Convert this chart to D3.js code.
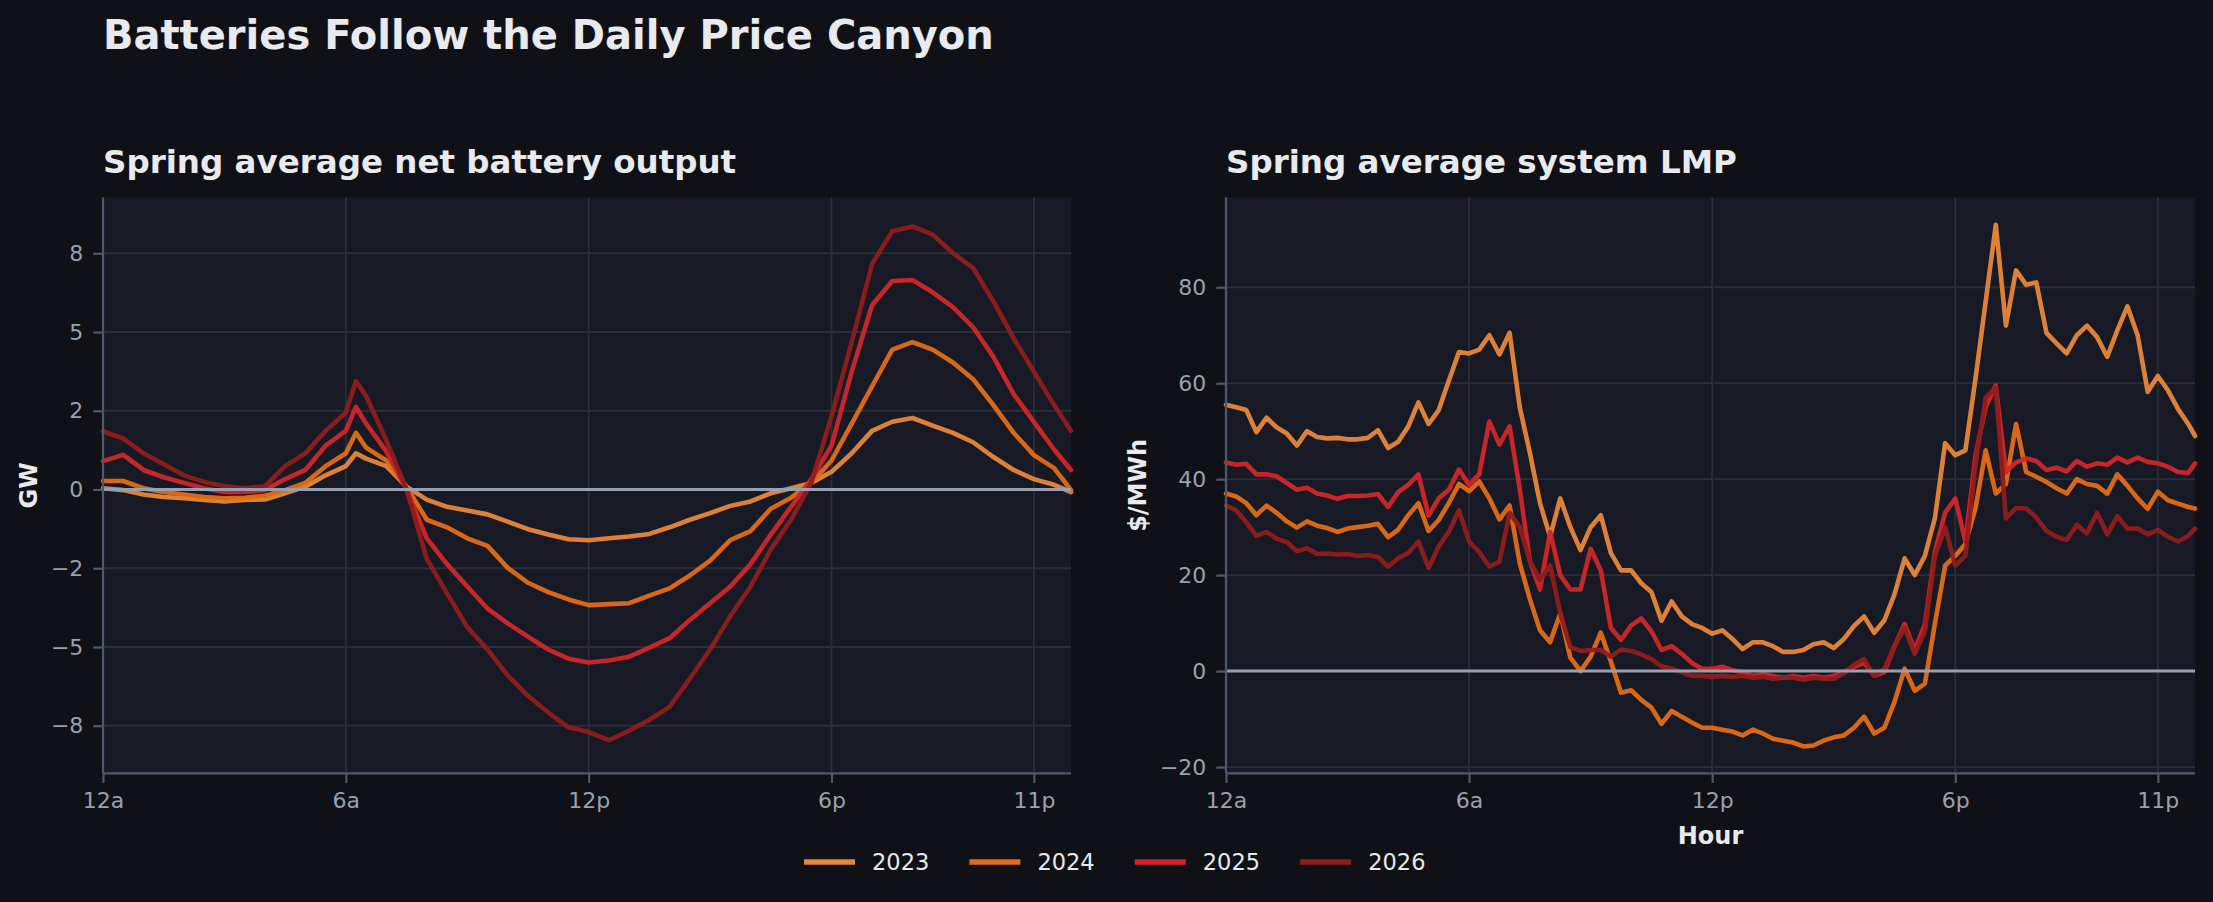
<!DOCTYPE html>
<html>
<head>
<meta charset="utf-8">
<script src="https://cdn.jsdelivr.net/npm/d3@7"></script>
<style>
  html, body { margin: 0; padding: 0; background: #0f1117; }
  svg { display: block; font-family: 'DejaVu Sans', sans-serif; }
</style>
</head>
<body>
<div id="chart"></div>
<script>
// series years and colours
const years = ['2023', '2024', '2025', '2026'];
const colors = ['#e8873a', '#e36b16', '#d0262a', '#8f1c1c'];

// hour ticks shared by both panels
const hourTicks = [0, 6, 12, 18, 23];
const hourLabels = ['12a', '6a', '12p', '6p', '11p'];

// left panel: net battery output (GW), half-hourly
const batHours = [0, 0.5, 1, 1.5, 2, 2.5, 3, 3.5, 4, 4.5, 5, 5.5, 6, 6.25, 6.5, 7, 7.5, 8, 8.5, 9,
  9.5, 10, 10.5, 11, 11.5, 12, 12.5, 13, 13.5, 14, 14.5, 15, 15.5, 16, 16.5, 17, 17.5, 18, 18.5, 19,
  19.5, 20, 20.5, 21, 21.5, 22, 22.5, 23, 23.5, 23.917];
const bat2023 = [0.04, -0.02, -0.16, -0.24, -0.28, -0.33, -0.38, -0.33, -0.32, -0.12,
  0.09, 0.45, 0.74, 1.15, 0.98, 0.74, 0.09, -0.32, -0.55, -0.67,
  -0.79, -1.02, -1.26, -1.43, -1.58, -1.61, -1.55, -1.49, -1.41, -1.2,
  -0.96, -0.75, -0.52, -0.38, -0.12, 0.04, 0.21, 0.56, 1.15, 1.86,
  2.15, 2.27, 2.03, 1.8, 1.5, 1.03, 0.62, 0.33, 0.15, -0.08];
const bat2024 = [0.27, 0.27, 0.04, -0.08, -0.16, -0.24, -0.28, -0.26, -0.2, -0.02,
  0.21, 0.74, 1.15, 1.8, 1.33, 0.92, 0.09, -0.96, -1.2, -1.55,
  -1.79, -2.49, -2.96, -3.26, -3.49, -3.67, -3.64, -3.61, -3.37, -3.14,
  -2.73, -2.26, -1.61, -1.32, -0.61, -0.26, 0.21, 0.92, 2.09, 3.27,
  4.44, 4.68, 4.44, 4.03, 3.5, 2.68, 1.8, 1.09, 0.68, -0.02];
const bat2025 = [0.9, 1.1, 0.62, 0.39, 0.21, 0.04, -0.08, -0.08, -0.02, 0.33,
  0.62, 1.39, 1.86, 2.62, 2.09, 1.21, 0, -1.55, -2.37, -3.08,
  -3.78, -4.25, -4.67, -5.08, -5.37, -5.49, -5.43, -5.31, -5.02, -4.72,
  -4.14, -3.61, -3.08, -2.37, -1.43, -0.55, 0.33, 1.39, 3.74, 5.85,
  6.62, 6.65, 6.26, 5.79, 5.15, 4.21, 3.03, 2.15, 1.27, 0.62];
const bat2026 = [1.85, 1.62, 1.15, 0.8, 0.45, 0.24, 0.1, 0.04, 0.1, 0.74,
  1.15, 1.86, 2.44, 3.44, 2.97, 1.56, 0, -2.2, -3.3, -4.37,
  -5.08, -5.9, -6.55, -7.08, -7.55, -7.7, -7.96, -7.66, -7.31, -6.9,
  -6.0, -5.08, -4.02, -3.08, -1.9, -0.96, 0.21, 2.33, 4.68, 7.15,
  8.2, 8.35, 8.09, 7.5, 7.03, 5.97, 4.8, 3.74, 2.68, 1.86];
const batTicks = [-7.5, -5, -2.5, 0, 2.5, 5, 7.5];
const batTickLabels = ['\u22128', '\u22125', '\u22122', '0', '2', '5', '8'];

// right panel: system LMP ($/MWh), quarter-hourly
const lmpHours = d3.range(0, 24, 0.25).concat([23.917]);
const lmp2023 = [
  55.5, 55.0, 54.4, 49.8, 52.8, 50.8, 49.5, 47.0,
  50.0, 48.8, 48.5, 48.6, 48.3, 48.3, 48.6, 50.2,
  46.5, 47.8, 51.0, 56.0, 51.5, 54.4, 60.5, 66.5,
  66.2, 67.0, 70.0, 66.0, 70.5, 55.0, 45.5, 35.0,
  28.0, 36.0, 30.0, 25.2, 30.0, 32.5, 24.6, 21.0,
  21.0, 18.3, 16.5, 10.5, 14.5, 11.4, 9.8, 9.0,
  7.8, 8.5, 6.7, 4.6, 6.0, 6.0, 5.2, 4.0,
  4.0, 4.4, 5.6, 6.0, 4.8, 6.7, 9.4, 11.4,
  8.0, 10.6, 16.0, 23.5, 20.0, 24.0, 32.0, 47.5,
  45.0, 46.0, 61.0, 77.0, 93.0, 72.0, 83.5, 80.5,
  81.0, 70.5, 68.3, 66.2, 70.0, 72.0, 69.6, 65.5,
  71.0, 76.0, 70.0, 58.2, 61.5, 58.5, 54.6, 51.5,
  49.0];
const lmp2024 = [
  37.0, 36.4, 35.0, 32.5, 34.5, 33.0, 31.2, 29.9,
  31.2, 30.3, 29.8, 29.0, 29.7, 30.0, 30.3, 30.7,
  27.9, 29.5, 32.5, 35.0, 29.2, 31.5, 35.0, 39.0,
  37.5, 39.5, 36.0, 31.6, 34.5, 22.5, 15.0, 8.5,
  6.0, 12.0, 2.8, 0.0, 3.0, 8.0, 2.0, -4.5,
  -4.0, -6.0, -7.6, -11.0, -8.3, -9.5, -10.7, -11.8,
  -11.8, -12.2, -12.6, -13.4, -12.2, -13.0, -14.1, -14.5,
  -14.9, -15.7, -15.5, -14.5, -13.8, -13.4, -11.8, -9.5,
  -13.0, -11.8, -6.4, 0.5, -4.1, -2.6, 10.0, 22.0,
  24.0, 26.5, 34.0, 46.0, 37.0, 39.0, 51.5, 41.5,
  40.5, 39.4, 38.1, 37.0, 40.0, 39.0, 38.6, 37.0,
  41.0, 38.6, 36.0, 33.8, 37.4, 35.6, 34.9, 34.2,
  33.9];
const lmp2025 = [
  43.5, 43.0, 43.2, 41.0, 41.0, 40.6, 39.2, 37.8,
  38.2, 37.0, 36.6, 35.9, 36.5, 36.5, 36.6, 36.9,
  34.2, 37.3, 38.8, 41.0, 32.4, 36.0, 37.8, 42.0,
  38.8, 41.0, 52.0, 47.2, 51.0, 38.0, 23.0, 17.0,
  29.0, 20.0, 17.0, 17.0, 25.5, 21.0, 9.0, 6.5,
  9.5, 11.0, 8.3, 4.4, 5.2, 3.6, 1.7, 0.5,
  0.5, 0.9, 0.2, -0.2, -1.0, -0.6, -1.0, -1.4,
  -1.0, -1.4, -1.0, -1.4, -1.0, -0.2, 0.9, 1.7,
  -1.0, -0.2, 5.2, 9.8, 4.4, 9.8, 25.0, 33.0,
  36.0, 27.0, 45.0, 55.0, 59.5, 41.5, 43.5, 44.3,
  43.8, 41.9, 42.4, 41.6, 43.8, 42.6, 43.3, 43.0,
  44.5, 43.5, 44.5, 43.6, 43.3, 42.6, 41.5, 41.3,
  43.3];
const lmp2026 = [
  34.5, 33.5, 31.0, 28.2, 29.0, 27.6, 26.9, 25.0,
  25.6, 24.4, 24.5, 24.3, 24.4, 24.0, 24.2, 23.8,
  21.8, 23.5, 24.6, 27.0, 21.5, 26.0, 29.0, 33.5,
  27.0, 24.8, 21.8, 22.8, 33.0, 30.0, 23.0, 19.0,
  22.0, 12.0, 5.0, 4.2, 4.4, 4.4, 3.0, 4.5,
  4.2, 3.5, 2.5, 1.0, 0.5, -0.2, -1.0, -1.0,
  -1.2, -1.0, -1.2, -1.0, -1.4, -1.2, -1.6, -1.4,
  -1.4, -1.8, -1.4, -1.6, -1.6, -0.5, 1.3, 2.5,
  -1.0, 0.5, 5.2, 9.0, 3.6, 8.3, 24.0, 30.0,
  22.0, 24.0, 43.0, 57.0, 59.0, 31.8, 34.0, 33.9,
  32.0, 29.2, 28.0, 27.3, 30.5, 28.7, 33.0, 28.5,
  32.3, 29.7, 29.7, 28.5, 29.4, 28.0, 27.0, 28.2,
  29.7];
const lmpTicks = [-20, 0, 20, 40, 60, 80];
const lmpTickLabels = ['\u221220', '0', '20', '40', '60', '80'];

const width = 2213;
const height = 902;
const plotTop = 197.5;
const plotBottom = 773.3;
const tickLen = 9.7;

const svg = d3.select('#chart')
  .append('svg')
  .attr('width', width)
  .attr('height', height);

svg.append('rect')
  .attr('width', width)
  .attr('height', height)
  .attr('fill', '#0f1117');

svg.append('text')
  .attr('x', 103)
  .attr('y', 49)
  .attr('fill', '#e8eaee')
  .style('font-size', '40px')
  .style('font-weight', 'bold')
  .text('Batteries Follow the Daily Price Canyon');

function drawPanel(opts) {
  const x = d3.scaleLinear()
    .domain([0, 23.917])
    .range([opts.left, opts.right]);
  const y = d3.scaleLinear()
    .domain(opts.yDomain)
    .range([plotBottom, plotTop]);

  const g = svg.append('g');

  g.append('rect')
    .attr('x', opts.left)
    .attr('y', plotTop)
    .attr('width', opts.right - opts.left)
    .attr('height', plotBottom - plotTop)
    .attr('fill', '#171a24');

  // grid
  g.append('g')
    .selectAll('line')
    .data(opts.yTicks)
    .join('line')
    .attr('x1', opts.left)
    .attr('x2', opts.right)
    .attr('y1', (d) => y(d))
    .attr('y2', (d) => y(d))
    .attr('stroke', '#2a2e3b')
    .attr('stroke-width', 1.8);
  g.append('g')
    .selectAll('line')
    .data(hourTicks)
    .join('line')
    .attr('x1', (d) => x(d))
    .attr('x2', (d) => x(d))
    .attr('y1', plotTop)
    .attr('y2', plotBottom)
    .attr('stroke', '#2a2e3b')
    .attr('stroke-width', 1.8);

  const line = d3.line()
    .x((d) => x(d[0]))
    .y((d) => y(d[1]));

  g.append('g')
    .selectAll('path')
    .data(opts.series)
    .join('path')
    .attr('d', (s) => line(opts.hours.map((h, i) => [h, s[i]])))
    .attr('fill', 'none')
    .attr('stroke', (s, i) => colors[i])
    .attr('stroke-width', 4.6)
    .attr('stroke-linejoin', 'round')
    .attr('stroke-linecap', 'round')
    .attr('opacity', 0.95);

  // zero line
  g.append('line')
    .attr('x1', opts.left)
    .attr('x2', opts.right)
    .attr('y1', y(0))
    .attr('y2', y(0))
    .attr('stroke', '#95a1b3')
    .attr('stroke-width', 3);

  const yAxis = d3.axisLeft(y)
    .tickValues(opts.yTicks)
    .tickFormat((d, i) => opts.yLabels[i])
    .tickSize(tickLen)
    .tickPadding(10);
  const xAxis = d3.axisBottom(x)
    .tickValues(hourTicks)
    .tickFormat((d, i) => hourLabels[i])
    .tickSize(tickLen)
    .tickPadding(9);

  [g.append('g').attr('transform', `translate(${opts.left},0)`).call(yAxis),
    g.append('g').attr('transform', `translate(0,${plotBottom})`).call(xAxis)]
    .forEach((ax) => {
      ax.select('.domain').remove();
      ax.selectAll('.tick line').attr('stroke', '#4f596c').attr('stroke-width', 2.2);
      ax.selectAll('.tick text')
        .attr('fill', '#9aa1ad')
        .style('font-size', '22px')
        .style('font-family', 'DejaVu Sans, sans-serif');
    });

  // spines
  g.append('line')
    .attr('x1', opts.left).attr('x2', opts.left)
    .attr('y1', plotTop).attr('y2', plotBottom)
    .attr('stroke', '#4f596c').attr('stroke-width', 2.2);
  g.append('line')
    .attr('x1', opts.left).attr('x2', opts.right)
    .attr('y1', plotBottom).attr('y2', plotBottom)
    .attr('stroke', '#4f596c').attr('stroke-width', 2.2);

  g.append('text')
    .attr('x', opts.left)
    .attr('y', 172.5)
    .attr('fill', '#e8eaee')
    .style('font-size', '32.5px')
    .style('font-weight', 'bold')
    .text(opts.title);

  g.append('text')
    .attr('transform', `translate(${opts.yLabelX},${(plotTop + plotBottom) / 2}) rotate(-90)`)
    .attr('text-anchor', 'middle')
    .attr('fill', '#e8eaee')
    .style('font-size', '24px')
    .style('font-weight', 'bold')
    .text(opts.yLabel);

  if (opts.xLabel) {
    g.append('text')
      .attr('x', (opts.left + opts.right) / 2)
      .attr('y', 844)
      .attr('text-anchor', 'middle')
      .attr('fill', '#e8eaee')
      .style('font-size', '24px')
      .style('font-weight', 'bold')
      .text(opts.xLabel);
  }
}

drawPanel({
  left: 103,
  right: 1071,
  yDomain: [-9.01, 9.27],
  yTicks: batTicks,
  yLabels: batTickLabels,
  hours: batHours,
  series: [bat2023, bat2024, bat2025, bat2026],
  title: 'Spring average net battery output',
  yLabel: 'GW',
  yLabelX: 37,
});

drawPanel({
  left: 1226,
  right: 2195,
  yDomain: [-21.3, 98.7],
  yTicks: lmpTicks,
  yLabels: lmpTickLabels,
  hours: lmpHours,
  series: [lmp2023, lmp2024, lmp2025, lmp2026],
  title: 'Spring average system LMP',
  yLabel: '$/MWh',
  yLabelX: 1146,
  xLabel: 'Hour',
});

// legend
const legend = svg.append('g')
  .selectAll('g')
  .data(years)
  .join('g')
  .attr('transform', (d, i) => `translate(${804 + i * 165.4},862)`);
legend.append('line')
  .attr('x1', 0)
  .attr('x2', 51)
  .attr('stroke', (d, i) => colors[i])
  .attr('stroke-width', 5.5);
legend.append('text')
  .attr('x', 68)
  .attr('y', 8)
  .attr('fill', '#e6e8ec')
  .style('font-size', '22.5px')
  .text((d) => d);
</script>
</body>
</html>
